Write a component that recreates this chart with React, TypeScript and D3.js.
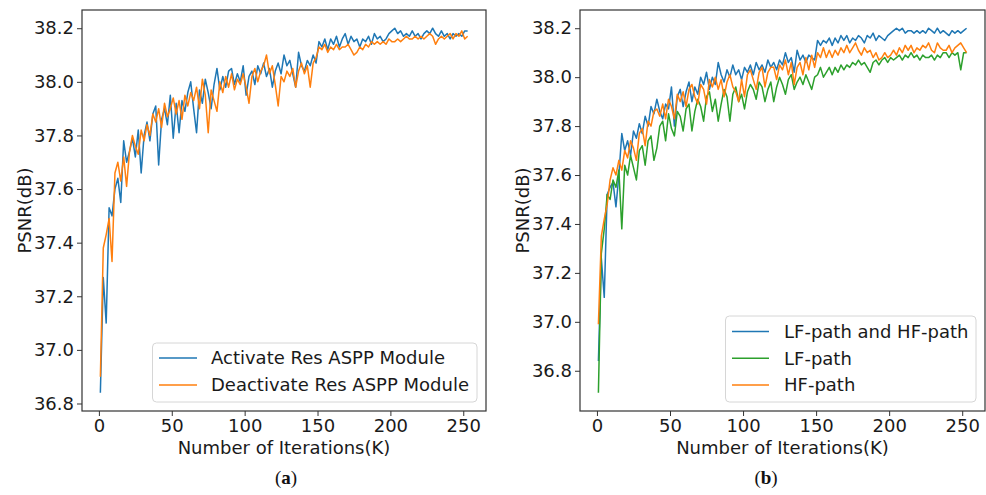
import React, { useEffect, useRef } from "react";
import * as d3 from "d3";

const width = 986;
const height = 495;
const font = "DejaVu Sans, Verdana, sans-serif";
const iterStep = 2; // one sample every 2K iterations, first one at 1K

const blueColor = "#1f77b4";
const orangeColor = "#ff7f0e";
const greenColor = "#2ca02c";

const xTicks = [0, 50, 100, 150, 200, 250];
const yTicks = [36.8, 37.0, 37.2, 37.4, 37.6, 37.8, 38.0, 38.2];

// (a) Res ASPP module on / off
const activateRes = [
  36.84, 37.27, 37.10, 37.53, 37.50, 37.60, 37.64, 37.55, 37.78, 37.70,
  37.74, 37.79, 37.72, 37.82, 37.66, 37.80, 37.85, 37.78, 37.88, 37.91,
  37.69, 37.86, 37.90, 37.84, 37.95, 37.79, 37.92, 37.81, 37.93, 37.89,
  37.96, 38.00, 37.90, 37.81, 37.97, 37.92, 38.01, 37.96, 37.90, 37.99,
  38.05, 37.97, 38.02, 37.98, 38.04, 38.05, 37.99, 38.03, 38.00, 38.06,
  37.95, 38.02, 38.04, 37.99, 38.06, 38.03, 38.07, 38.02, 38.05, 37.98,
  38.04, 38.07, 38.03, 38.10, 38.06, 38.08, 38.03, 37.98, 38.11, 38.06,
  38.04, 38.08, 38.06, 38.10, 38.07, 38.15, 38.13, 38.16, 38.12, 38.16,
  38.14, 38.17, 38.13, 38.16, 38.18, 38.14, 38.17, 38.15, 38.16, 38.13,
  38.16, 38.15, 38.17, 38.14, 38.18, 38.16, 38.17, 38.15, 38.16, 38.18,
  38.19, 38.20, 38.18, 38.19, 38.17, 38.18, 38.17, 38.19, 38.17, 38.18,
  38.16, 38.18, 38.19, 38.18, 38.20, 38.18, 38.17, 38.19, 38.17, 38.18,
  38.16, 38.18, 38.17, 38.18, 38.17, 38.19, 38.19,
];

const deactivateRes = [
  36.90, 37.38, 37.43, 37.49, 37.33, 37.66, 37.70, 37.63, 37.72, 37.61,
  37.74, 37.80, 37.76, 37.73, 37.82, 37.78, 37.84, 37.80, 37.88, 37.85,
  37.90, 37.83, 37.92, 37.87, 37.90, 37.94, 37.88, 37.93, 37.86, 37.95,
  37.91, 37.96, 37.93, 37.98, 37.90, 38.01, 37.95, 37.81, 37.97, 37.93,
  37.89, 38.00, 37.96, 38.02, 37.98, 38.03, 37.97, 38.01, 37.99, 38.03,
  37.98, 37.92, 38.02, 38.05, 38.00, 38.04, 38.06, 38.10, 38.03, 38.06,
  37.99, 37.91, 38.02, 38.00, 38.04, 38.02, 38.05, 37.98, 38.04, 38.07,
  38.03, 38.06, 37.98, 38.07, 38.09, 38.13, 38.12, 38.14, 38.11, 38.13,
  38.12, 38.14, 38.12, 38.13, 38.13, 38.14, 38.12, 38.10, 38.11, 38.13,
  38.12, 38.14, 38.13, 38.15, 38.14, 38.15, 38.14, 38.15, 38.14, 38.16,
  38.15, 38.15, 38.16, 38.15, 38.16, 38.17, 38.16, 38.16, 38.17, 38.16,
  38.17, 38.16, 38.17, 38.18, 38.17, 38.14, 38.16, 38.17, 38.16, 38.17,
  38.18, 38.16, 38.18, 38.17, 38.19, 38.16, 38.17,
];

// (b) LF / HF paths
const lfAndHfPath = [
  36.84, 37.26, 37.10, 37.52, 37.55, 37.57, 37.47, 37.60, 37.77, 37.70,
  37.74, 37.68, 37.78, 37.75, 37.81, 37.77, 37.84, 37.80, 37.88, 37.85,
  37.91, 37.86, 37.83, 37.89, 37.87, 37.96, 37.80, 37.92, 37.95, 37.88,
  37.94, 37.98, 37.90, 37.96, 37.93, 38.00, 37.97, 38.02, 37.95, 38.00,
  37.97, 38.06, 38.01, 37.98, 38.03, 38.00, 38.05, 38.01, 38.03, 37.99,
  38.04, 38.02, 38.05, 38.01, 38.06, 38.03, 38.05, 38.02, 38.07, 38.04,
  38.06, 38.03, 38.07, 38.05, 38.10, 38.06, 38.08, 38.02, 38.11, 38.07,
  38.09, 38.06, 38.09, 38.08, 38.07, 38.15, 38.13, 38.15, 38.14, 38.16,
  38.13, 38.16, 38.14, 38.17, 38.15, 38.17, 38.14, 38.16, 38.15, 38.17,
  38.16, 38.14, 38.17, 38.16, 38.18, 38.15, 38.17, 38.16, 38.15, 38.17,
  38.18, 38.19, 38.20, 38.19, 38.20, 38.18, 38.19, 38.19, 38.18, 38.19,
  38.18, 38.19, 38.18, 38.20, 38.19, 38.18, 38.20, 38.18, 38.19, 38.18,
  38.17, 38.19, 38.18, 38.19, 38.18, 38.19, 38.20,
];

const lfPath = [
  36.71, 37.28, 37.38, 37.52, 37.50, 37.58, 37.55, 37.62, 37.38, 37.64,
  37.60, 37.68, 37.63, 37.58, 37.70, 37.72, 37.64, 37.74, 37.76, 37.66,
  37.71, 37.80, 37.82, 37.74, 37.85, 37.79, 37.76, 37.86, 37.84, 37.78,
  37.87, 37.89, 37.78, 37.86, 37.91, 37.88, 37.82, 37.92, 37.94, 37.86,
  37.91, 37.82, 37.89, 37.95, 37.92, 37.82, 37.93, 37.96, 37.90, 37.93,
  37.87, 37.94, 37.97, 37.95, 37.91, 37.98, 37.96, 37.90, 37.95, 37.98,
  37.90, 37.96, 38.00, 37.97, 37.93, 37.99, 38.01, 37.95, 37.98, 38.00,
  37.97, 38.01, 37.98, 37.95, 38.00, 38.01, 38.04, 38.00, 38.02, 38.04,
  38.01, 38.04, 38.02, 38.05, 38.03, 38.05, 38.04, 38.06, 38.05, 38.07,
  38.05, 38.06, 38.04, 38.02, 38.06, 38.07, 38.05, 38.07, 38.08, 38.06,
  38.08, 38.07, 38.08, 38.09, 38.07, 38.09, 38.08, 38.10, 38.08, 38.09,
  38.07, 38.09, 38.08, 38.08, 38.09, 38.07, 38.09, 38.08, 38.10, 38.10,
  38.08, 38.10, 38.09, 38.10, 38.03, 38.10, 38.10,
];

const hfPath = [
  36.99, 37.35, 37.42, 37.48, 37.58, 37.63, 37.60, 37.66, 37.62, 37.70,
  37.67, 37.74, 37.71, 37.66, 37.77, 37.79, 37.72, 37.82, 37.80, 37.86,
  37.87, 37.84, 37.89, 37.83, 37.91, 37.88, 37.83, 37.93, 37.90, 37.94,
  37.88, 37.95, 37.97, 37.92, 37.89, 37.97, 37.95, 37.89, 37.99, 37.96,
  38.00, 37.95, 37.99, 37.92, 37.98, 38.01, 37.96, 37.94, 37.90, 37.99,
  37.92, 38.01, 38.03, 37.99, 37.95, 38.02, 38.04, 37.96, 38.02, 38.04,
  38.04, 37.99, 38.05, 38.03, 38.07, 38.01, 38.06, 37.97, 38.04, 38.06,
  38.01, 38.08, 38.03, 38.09, 38.04, 38.10, 38.08, 38.12, 38.08, 38.11,
  38.08, 38.11, 38.09, 38.12, 38.10, 38.13, 38.10, 38.12, 38.14, 38.11,
  38.09, 38.12, 38.10, 38.11, 38.08, 38.10, 38.07, 38.08, 38.10, 38.08,
  38.09, 38.11, 38.09, 38.12, 38.10, 38.13, 38.11, 38.13, 38.10, 38.12,
  38.11, 38.13, 38.12, 38.14, 38.11, 38.10, 38.14, 38.12, 38.11, 38.11,
  38.13, 38.10, 38.12, 38.13, 38.14, 38.12, 38.10,
];

const iterations = activateRes.map((_, i) => 1 + i * iterStep);

const panelA = {
  frame: { left: 82, top: 10, width: 404, height: 401 },
  series: [
    { label: "Activate Res ASPP Module", color: blueColor, values: activateRes },
    { label: "Deactivate Res ASPP Module", color: orangeColor, values: deactivateRes },
  ],
  legend: { x: 152.5, y: 343, w: 324.5, h: 59, rowY: [358, 385], hx: [159, 197], tx: 211 },
  yLabelX: 31,
  caption: "a",
  captionX: 286,
};

const panelB = {
  frame: { left: 580, top: 10, width: 405, height: 401 },
  series: [
    { label: "LF-path and HF-path", color: blueColor, values: lfAndHfPath },
    { label: "LF-path", color: greenColor, values: lfPath },
    { label: "HF-path", color: orangeColor, values: hfPath },
  ],
  legend: { x: 725.5, y: 316, w: 250.5, h: 86, rowY: [331.5, 358.3, 385], hx: [732, 769], tx: 784 },
  yLabelX: 529,
  caption: "b",
  captionX: 766,
};

// matplotlib-style 5% padding around the data range
const padded = (lo, hi) => {
  const m = (hi - lo) * 0.05;
  return [lo - m, hi + m];
};

const XAxis = ({ xScale, innerHeight }) => {
  const ref = useRef(null);
  useEffect(() => {
    const g = d3.select(ref.current);
    g.call(d3.axisBottom(xScale).tickValues(xTicks).tickSize(5).tickPadding(3));
    g.select(".domain").remove();
    g.selectAll(".tick line").attr("stroke", "#333").attr("stroke-width", 1);
    g.selectAll(".tick text")
      .attr("font-size", 18)
      .attr("font-family", font)
      .attr("fill", "#1a1a1a");
  }, [xScale]);
  return <g ref={ref} transform={`translate(0,${innerHeight})`} />;
};

const YAxis = ({ yScale }) => {
  const ref = useRef(null);
  useEffect(() => {
    const g = d3.select(ref.current);
    g.call(
      d3
        .axisLeft(yScale)
        .tickValues(yTicks)
        .tickFormat(d3.format(".1f"))
        .tickSize(5)
        .tickPadding(3)
    );
    g.select(".domain").remove();
    g.selectAll(".tick line").attr("stroke", "#333").attr("stroke-width", 1);
    g.selectAll(".tick text")
      .attr("font-size", 18)
      .attr("font-family", font)
      .attr("fill", "#1a1a1a");
  }, [yScale]);
  return <g ref={ref} />;
};

const Legend = ({ legend, series }) => (
  <g fontFamily={font} fontSize={18}>
    <rect
      x={legend.x}
      y={legend.y}
      width={legend.w}
      height={legend.h}
      rx={4}
      fill="white"
      fillOpacity={0.8}
      stroke="#d6d6d6"
      strokeWidth={1}
    />
    {series.map((s, i) => (
      <g key={s.label}>
        <line
          x1={legend.hx[0]}
          x2={legend.hx[1]}
          y1={legend.rowY[i]}
          y2={legend.rowY[i]}
          stroke={s.color}
          strokeWidth={1.6}
        />
        <text x={legend.tx} y={legend.rowY[i]} dy="0.36em" fill="#1a1a1a">
          {s.label}
        </text>
      </g>
    ))}
  </g>
);

const Panel = ({ panel }) => {
  const { frame, series } = panel;
  const innerWidth = frame.width;
  const innerHeight = frame.height;

  const allValues = series.flatMap((s) => s.values);
  const xScale = d3
    .scaleLinear()
    .domain(padded(d3.min(iterations), d3.max(iterations)))
    .range([0, innerWidth]);
  const yScale = d3
    .scaleLinear()
    .domain(padded(d3.min(allValues), d3.max(allValues)))
    .range([innerHeight, 0]);

  const lineGen = d3
    .line()
    .x((d, i) => xScale(iterations[i]))
    .y((d) => yScale(d));

  return (
    <g>
      <g transform={`translate(${frame.left},${frame.top})`}>
        {series.map((s) => (
          <path
            key={s.label}
            d={lineGen(s.values)}
            fill="none"
            stroke={s.color}
            strokeWidth={1.5}
            strokeLinejoin="round"
          />
        ))}
        <rect
          width={innerWidth}
          height={innerHeight}
          fill="none"
          stroke="#333"
          strokeWidth={1.2}
        />
        <XAxis xScale={xScale} innerHeight={innerHeight} />
        <YAxis yScale={yScale} />
      </g>
      <Legend legend={panel.legend} series={series} />
      <text
        x={frame.left + innerWidth / 2}
        y={454}
        textAnchor="middle"
        fontFamily={font}
        fontSize={18}
        fill="#1a1a1a"
      >
        Number of Iterations(K)
      </text>
      <text
        transform={`translate(${panel.yLabelX},${frame.top + innerHeight / 2}) rotate(-90)`}
        textAnchor="middle"
        fontFamily={font}
        fontSize={18}
        fill="#1a1a1a"
      >
        PSNR(dB)
      </text>
      <text
        x={panel.captionX}
        y={484}
        textAnchor="middle"
        fontFamily="Liberation Serif, serif"
        fontSize={19}
        fill="#111"
      >
        (<tspan fontWeight="bold">{panel.caption}</tspan>)
      </text>
    </g>
  );
};

export default function App() {
  return (
    <svg
      width={width}
      height={height}
      style={{ position: "absolute", left: 0, top: 0, background: "white" }}
    >
      <Panel panel={panelA} />
      <Panel panel={panelB} />
    </svg>
  );
}
